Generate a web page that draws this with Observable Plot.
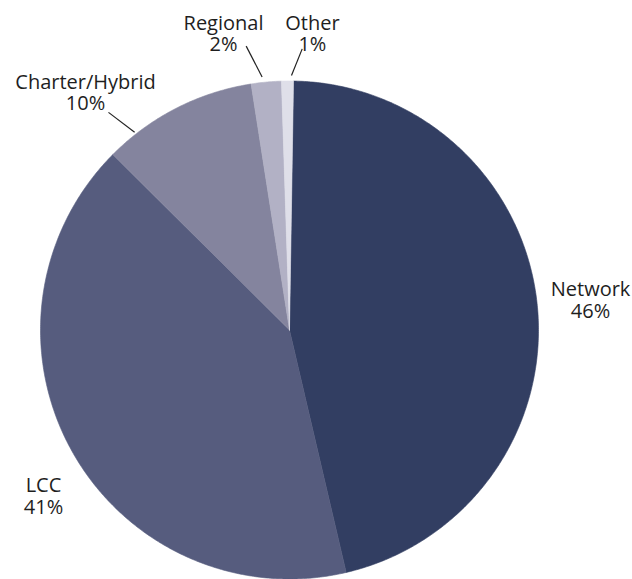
<!DOCTYPE html>
<html><head><meta charset="utf-8">
<script src="https://cdn.jsdelivr.net/npm/d3@7"></script>
<script src="https://cdn.jsdelivr.net/npm/@observablehq/plot@0.6"></script>
<style>body{margin:0;background:#fff}</style>
</head><body><div id="chart"></div>
<script>
// ---- data ----
const categories = ["Network", "LCC", "Charter/Hybrid", "Regional", "Other"];
const shares = [46.1, 41.1, 10.1, 1.95, 0.77];
const shareLabels = ["46%", "41%", "10%", "2%", "1%"];
const colors = ["#323e62", "#565c7e", "#84849e", "#b2b1c5", "#dfdfe9"];

// ---- layout (unit-circle coordinates, y up) ----
const W = 632, H = 579, CX = 289, CY = 329.5, R = 249;
const startAngle = 0.92; // degrees clockwise from 12 o'clock
const labelAt = [[1.209, 0.050], [-0.988, -0.737], [-0.819, 0.882], [-0.265, 1.120], [0.092, 1.120]];
const leaderAt = [null, null,
  [[-0.727, 0.874], [-0.622, 0.794]],
  [[-0.174, 1.140], [-0.110, 1.016]],
  [[0.051, 1.129], [0.008, 1.022]]];

// ---- build wedges from shares ----
const total = d3.sum(shares);
const wedgePts = [];
let cum = 0;
categories.forEach((name, i) => {
  const a0 = startAngle + cum / total * 360;
  cum += shares[i];
  const a1 = startAngle + cum / total * 360;
  const n = Math.max(2, Math.ceil((a1 - a0) / 0.5));
  wedgePts.push({name, x: 0, y: 0});
  for (let k = 0; k <= n; k++) {
    const a = (a0 + (a1 - a0) * k / n) * Math.PI / 180;
    wedgePts.push({name, x: Math.sin(a), y: Math.cos(a)});
  }
  wedgePts.push({name, x: 0, y: 0});
});

const labels = categories.map((name, i) => ({
  text: name + "\n" + shareLabels[i], x: labelAt[i][0], y: labelAt[i][1]
}));
const leaders = categories.map((name, i) => leaderAt[i] && ({
  name, x1: leaderAt[i][0][0], y1: leaderAt[i][0][1], x2: leaderAt[i][1][0], y2: leaderAt[i][1][1]
})).filter(Boolean);

const chart = Plot.plot({
  width: W, height: H,
  margin: 0,
  style: {fontFamily: "'Open Sans', sans-serif", background: "white"},
  x: {domain: [-CX / R, (W - CX) / R], range: [0, W], axis: null},
  y: {domain: [-(H - CY) / R, CY / R], range: [H, 0], axis: null},
  color: {domain: categories, range: colors},
  marks: [
    Plot.line(wedgePts, {x: "x", y: "y", z: "name", fill: "name", stroke: "name", strokeWidth: 0.6, curve: "linear"}),
    Plot.link(leaders, {x1: "x1", y1: "y1", x2: "x2", y2: "y2", stroke: "#222", strokeWidth: 1.2}),
    Plot.text(labels, {x: "x", y: "y", text: "text", textAnchor: "middle", lineAnchor: "bottom",
      fontSize: 20, lineHeight: 1.06, fill: "#1e1e1e", fontFamily: "'Open Sans', sans-serif"})
  ]
});
document.getElementById("chart").appendChild(chart);
</script>
</body></html>
